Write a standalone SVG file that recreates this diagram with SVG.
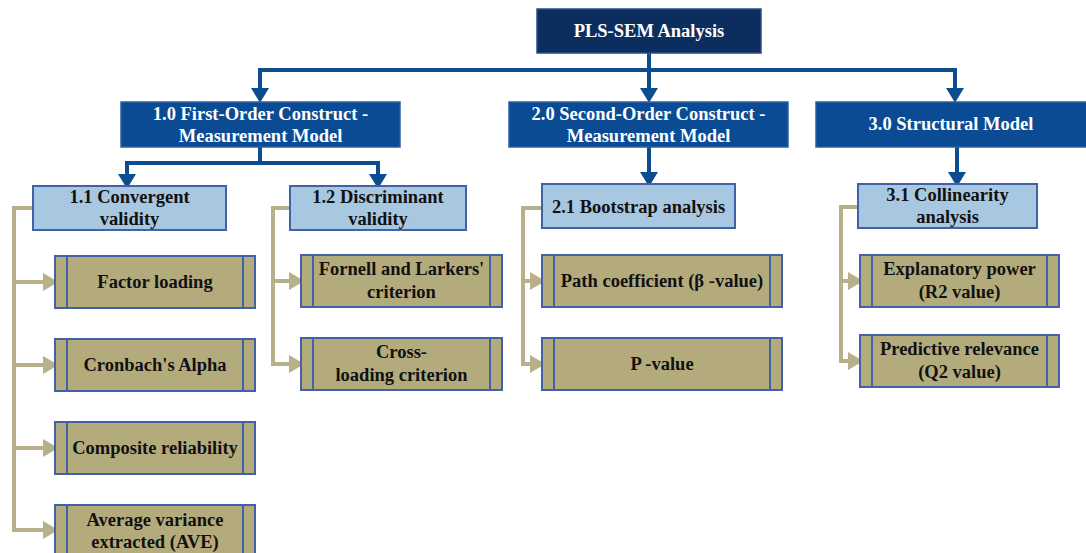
<svg xmlns="http://www.w3.org/2000/svg" width="1086" height="553" viewBox="0 0 1086 553">
<style>
.t{font-family:"Liberation Serif","DejaVu Serif","Times New Roman",serif;font-weight:700;font-size:18.5px;text-anchor:middle;dominant-baseline:central}
.w{fill:#ffffff}
.k{fill:#111111}
.top{fill:#0c2e5f;stroke:#2a4f86;stroke-width:1.5}
.l1{fill:#0b4b93;stroke:#2c5fa3;stroke-width:1.5}
.l2{fill:#a8c8e2;stroke:#3f62a8;stroke-width:2}
.ol{fill:#b4ab7d;stroke:#4261a8;stroke-width:2}
.bar{stroke:#4261a8;stroke-width:2}
.bc{fill:none;stroke:#0b4d8f;stroke-width:4}
.oc{fill:none;stroke:#b7b089;stroke-width:4}
</style>
<defs>
<marker id="ab" markerUnits="userSpaceOnUse" markerWidth="18" markerHeight="18" refX="0" refY="8" orient="auto" viewBox="0 0 13 16">
<path d="M0,0 L13,8 L0,16 z" fill="#0b4d8f"/>
</marker>
<marker id="ao" markerUnits="userSpaceOnUse" markerWidth="18" markerHeight="18" refX="0" refY="7" orient="auto" viewBox="0 0 12 14">
<path d="M0,0 L12,7 L0,14 z" fill="#b7b089"/>
</marker>
</defs>
<g id="connectors">
<path class="bc" d="M649,53 V88" marker-end="url(#ab)"/>
<path class="bc" d="M260,88 V70 H955 V88" marker-end="url(#ab)"/>
<path class="bc" d="M260,70 V88" marker-end="url(#ab)"/>
<path class="bc" d="M260,147 V163 H127 V174" marker-end="url(#ab)"/>
<path class="bc" d="M260,163 H378 V174" marker-end="url(#ab)"/>
<path class="bc" d="M649,147 V172" marker-end="url(#ab)"/>
<path class="bc" d="M957,147 V172" marker-end="url(#ab)"/>
<path class="oc" d="M33,208 H14 V530 H43" marker-end="url(#ao)"/>
<path class="oc" d="M14,282 H43" marker-end="url(#ao)"/>
<path class="oc" d="M14,365 H43" marker-end="url(#ao)"/>
<path class="oc" d="M14,448 H43" marker-end="url(#ao)"/>
<path class="oc" d="M290,208 H273 V364 H289" marker-end="url(#ao)"/>
<path class="oc" d="M273,281 H289" marker-end="url(#ao)"/>
<path class="oc" d="M542,208 H523 V364 H530" marker-end="url(#ao)"/>
<path class="oc" d="M523,281 H530" marker-end="url(#ao)"/>
<path class="oc" d="M858,207 H841 V361 H848" marker-end="url(#ao)"/>
<path class="oc" d="M841,281 H848" marker-end="url(#ao)"/>
</g>
<g id="n-root"><rect class="top" x="537" y="9" width="224" height="44"/><text class="t w" x="649" y="31">PLS-SEM Analysis</text></g>
<g id="n-1-0"><rect class="l1" x="121" y="102" width="279" height="45"/><text class="t w" x="260.5" y="114">1.0 First-Order Construct -</text><text class="t w" x="260.5" y="136">Measurement Model</text></g>
<g id="n-2-0"><rect class="l1" x="509" y="102" width="279" height="45"/><text class="t w" x="648.5" y="114">2.0 Second-Order Construct -</text><text class="t w" x="648.5" y="136">Measurement Model</text></g>
<g id="n-3-0"><rect class="l1" x="816" y="102" width="280" height="45"/><text class="t w" x="951" y="124">3.0 Structural Model</text></g>
<g id="n-1-1"><rect class="l2" x="33" y="186" width="193" height="44"/><text class="t k" x="129.5" y="197">1.1 Convergent</text><text class="t k" x="129.5" y="219">validity</text></g>
<g id="n-1-2"><rect class="l2" x="290" y="186" width="176" height="44"/><text class="t k" x="378" y="197">1.2 Discriminant</text><text class="t k" x="378" y="219">validity</text></g>
<g id="n-2-1"><rect class="l2" x="542" y="184" width="193" height="44"/><text class="t k" x="638.5" y="207">2.1 Bootstrap analysis</text></g>
<g id="n-3-1"><rect class="l2" x="858" y="184" width="179" height="44"/><text class="t k" x="947.5" y="195">3.1 Collinearity</text><text class="t k" x="947.5" y="217">analysis</text></g>
<g id="n-factor"><rect class="ol" x="55" y="256" width="200" height="52"/><path class="bar" d="M67,256 V308 M243,256 V308"/><text class="t k" x="155" y="282">Factor loading</text></g>
<g id="n-cronbach"><rect class="ol" x="55" y="339" width="200" height="52"/><path class="bar" d="M67,339 V391 M243,339 V391"/><text class="t k" x="155" y="365">Cronbach's Alpha</text></g>
<g id="n-composite"><rect class="ol" x="55" y="422" width="200" height="52"/><path class="bar" d="M67,422 V474 M243,422 V474"/><text class="t k" x="155" y="448">Composite reliability</text></g>
<g id="n-ave"><rect class="ol" x="55" y="505" width="200" height="52"/><path class="bar" d="M67,505 V557 M243,505 V557"/><text class="t k" x="155" y="520">Average variance</text><text class="t k" x="155" y="542">extracted (AVE)</text></g>
<g id="n-fornell"><rect class="ol" x="301" y="255" width="201" height="52"/><path class="bar" d="M313,255 V307 M490,255 V307"/><text class="t k" x="401.5" y="269">Fornell and Larkers'</text><text class="t k" x="401.5" y="292">criterion</text></g>
<g id="n-cross"><rect class="ol" x="301" y="338" width="201" height="52"/><path class="bar" d="M313,338 V390 M490,338 V390"/><text class="t k" x="401.5" y="352">Cross-</text><text class="t k" x="401.5" y="375">loading criterion</text></g>
<g id="n-path"><rect class="ol" x="542" y="255" width="240" height="52"/><path class="bar" d="M554,255 V307 M770,255 V307"/><text class="t k" x="662" y="281">Path coefficient (β -value)</text></g>
<g id="n-p"><rect class="ol" x="542" y="338" width="240" height="52"/><path class="bar" d="M554,338 V390 M770,338 V390"/><text class="t k" x="662" y="364">P -value</text></g>
<g id="n-explanatory"><rect class="ol" x="860" y="255" width="199" height="52"/><path class="bar" d="M872,255 V307 M1047,255 V307"/><text class="t k" x="959.5" y="269">Explanatory power</text><text class="t k" x="959.5" y="292">(R2 value)</text></g>
<g id="n-predictive"><rect class="ol" x="860" y="335" width="199" height="52"/><path class="bar" d="M872,335 V387 M1047,335 V387"/><text class="t k" x="959.5" y="349">Predictive relevance</text><text class="t k" x="959.5" y="372">(Q2 value)</text></g>
</svg>
